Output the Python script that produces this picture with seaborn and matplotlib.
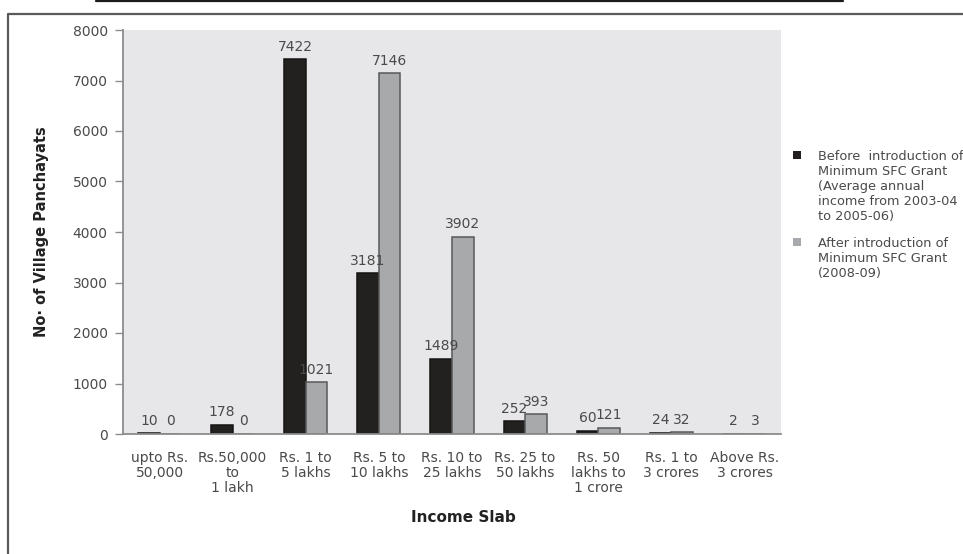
import matplotlib
matplotlib.use("Agg")
import matplotlib.pyplot as plt
from matplotlib.patches import Rectangle
from matplotlib.lines import Line2D
import seaborn as sns
import pandas as pd

# Income slabs and the number of village panchayats in each
slabs = ["upto Rs.\n50,000", "Rs.50,000\nto\n1 lakh", "Rs. 1 to\n5 lakhs",
         "Rs. 5 to\n10 lakhs", "Rs. 10 to\n25 lakhs", "Rs. 25 to\n50 lakhs",
         "Rs. 50\nlakhs to\n1 crore", "Rs. 1 to\n3 crores", "Above Rs.\n3 crores"]
before_grant = [10, 178, 7422, 3181, 1489, 252, 60, 24, 2]
after_grant = [0, 0, 1021, 7146, 3902, 393, 121, 32, 3]
periods = ["Before", "After"]
legend_texts = [
    "Before  introduction of\nMinimum SFC Grant\n(Average annual\nincome from 2003-04\nto 2005-06)",
    "After introduction of\nMinimum SFC Grant\n(2008-09)",
]
y_ticks = [0, 1000, 2000, 3000, 4000, 5000, 6000, 7000, 8000]

bar_colors = ["#231f20", "#a7a9ac"]
edge_colors = ["#161314", "#58595b"]
text_color = "#4a4a4a"

df = pd.DataFrame({
    "slab": slabs * 2,
    "count": before_grant + after_grant,
    "period": [periods[0]] * len(slabs) + [periods[1]] * len(slabs),
})

sns.set_style("white")
plt.rcParams["font.family"] = ["DejaVu Sans"]

W, H = 963, 554
fig = plt.figure(figsize=(W / 100, H / 100), dpi=100)
fig.patch.set_facecolor("white")


def fx(px):
    return px / W


def fy(py):
    return 1 - py / H


ax = fig.add_axes([fx(123), fy(434), fx(781) - fx(123), fy(30) - fy(434)])
ax.set_facecolor("#e7e7e9")

sns.barplot(data=df, x="slab", y="count", hue="period", hue_order=periods,
            order=slabs, palette=bar_colors, width=0.59, gap=0,
            legend=False, ax=ax)

for container, ec in zip(ax.containers, edge_colors):
    for patch in container:
        patch.set_edgecolor(ec)
        patch.set_linewidth(1.1)
    ax.bar_label(container, labels=[str(int(v)) for v in container.datavalues],
                 padding=4, fontsize=10, color=text_color)

ax.set_ylim(0, 8000)
ax.set_xlim(-0.5, len(slabs) - 0.5)
ax.set_yticks(y_ticks)
ax.set_yticklabels([str(v) for v in y_ticks], fontsize=10, color=text_color)

# category boundaries as ticks, labels at centres
ax.set_xticks([i - 0.5 for i in range(len(slabs) + 1)])
ax.set_xticklabels([])
ax.set_xticks(range(len(slabs)), minor=True)
ax.set_xticklabels(slabs, minor=True, fontsize=10, color=text_color,
                   linespacing=1.1)
ax.tick_params(axis="x", which="major", length=7, width=1, color="#8c8c8c",
               direction="out")
ax.tick_params(axis="x", which="minor", length=0, pad=12)
ax.tick_params(axis="y", length=6, width=1, color="#8c8c8c", pad=5,
               direction="out", left=True)
ax.set_xlabel("")
ax.set_ylabel("")

for side in ["top", "right"]:
    ax.spines[side].set_visible(False)
for side in ["left", "bottom"]:
    ax.spines[side].set_color("#8c8c8c")
    ax.spines[side].set_linewidth(1.3)

fig.text(fx(42), fy(232), "No\u00b7 of Village Panchayats", rotation=90,
         ha="center", va="center", fontsize=10.5, fontweight="bold",
         color="#222222")
fig.text(fx(463), fy(518), "Income Slab", ha="center", va="center",
         fontsize=11, fontweight="bold", color="#222222")

# legend
legend_tops = [151, 238]
for top, color, label in zip(legend_tops, bar_colors, legend_texts):
    fig.patches.append(Rectangle((fx(793), fy(top + 8)), fx(8), fy(0) - fy(8),
                                 transform=fig.transFigure, facecolor=color,
                                 edgecolor="none"))
    fig.text(fx(818), fy(top - 1), label, ha="left", va="top", fontsize=9.3,
             color=text_color, linespacing=1.2)

# page rules around the chart
fig.lines.append(Line2D([fx(96), fx(843)], [fy(0.8), fy(0.8)],
                        transform=fig.transFigure, color="#1a1a1a",
                        linewidth=1.6))
fig.lines.append(Line2D([fx(8), fx(8), fx(W)], [fy(H), fy(14), fy(14)],
                        transform=fig.transFigure, color="#5a5a5a",
                        linewidth=1.6))

fig.savefig("out.png", dpi=100)
